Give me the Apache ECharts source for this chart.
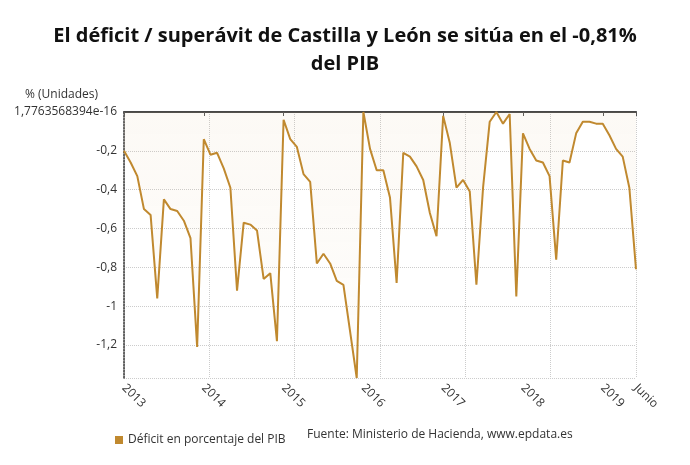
<!DOCTYPE html>
<html>
<head>
<meta charset="utf-8">
<script src="https://cdn.jsdelivr.net/npm/echarts@6/dist/echarts.min.js"></script>
<style>html,body{margin:0;padding:0;background:#fff}#c{width:690px;height:465px}</style>
</head>
<body>
<div id="c"></div>
<script>
var years = ['2013','2014','2015','2016','2017','2018','2019'];
var months = ['Ene','Feb','Mar','Abr','May','Jun','Jul','Ago','Sep','Oct','Nov','Dic'];
var categories = [];
years.forEach(function(y){ months.forEach(function(m){ categories.push(m + ' ' + y); }); });
categories = categories.slice(0, 78);

var deficit = [
  -0.20, -0.26, -0.33, -0.50, -0.53, -0.96, -0.45, -0.50, -0.51, -0.56, -0.65, -1.21,
  -0.14, -0.22, -0.21, -0.29, -0.39, -0.92, -0.57, -0.58, -0.61, -0.86, -0.83, -1.18,
  -0.04, -0.14, -0.18, -0.32, -0.36, -0.78, -0.73, -0.78, -0.87, -0.89, -1.13, -1.37,
  0.00, -0.19, -0.30, -0.30, -0.44, -0.88, -0.21, -0.23, -0.28, -0.35, -0.52, -0.64,
  -0.02, -0.16, -0.39, -0.35, -0.41, -0.89, -0.39, -0.05, 0.00, -0.06, -0.01, -0.95,
  -0.11, -0.19, -0.25, -0.26, -0.33, -0.76, -0.25, -0.26, -0.11, -0.05, -0.05, -0.06,
  -0.06, -0.12, -0.19, -0.23, -0.39, -0.81
];

var tickLabels = {0:'2013', 12:'2014', 24:'2015', 36:'2016', 48:'2017', 60:'2018', 72:'2019', 77:'Junio'};
var topLabel = '1,7763568394e-16';
var yAxisName = '% (Unidades)';

var chart = echarts.init(document.getElementById('c'));
var font = '"Open Sans", "Noto Sans", sans-serif';
function isTick(i){ return tickLabels.hasOwnProperty(i); }

chart.setOption({
  animation: false,
  textStyle: { fontFamily: font },
  title: {
    text: 'El déficit / superávit de Castilla y León se sitúa en el -0,81%\ndel PIB',
    left: 'center', top: 17,
    textStyle: { fontFamily: font, fontWeight: 'bold', fontSize: 20, color: '#111', lineHeight: 28 }
  },
  legend: {
    left: 110, top: 429, itemWidth: 8, itemHeight: 8, icon: 'rect', itemGap: 6,
    textStyle: { fontFamily: font, fontSize: 12, color: '#333' },
    data: ['Déficit en porcentaje del PIB']
  },
  graphic: [{
    type: 'text', left: 307, top: 429,
    style: { text: 'Fuente: Ministerio de Hacienda, www.epdata.es', font: '12px ' + font, fill: '#333' }
  }, {
    type: 'text', left: 25, top: 89,
    style: { text: yAxisName, font: '12px ' + font, fill: '#333' }
  }],
  grid: { left: 124, right: 54, top: 112, bottom: 87 },
  xAxis: [{
    type: 'category', data: categories, boundaryGap: false,
    axisLine: { lineStyle: { color: '#555', width: 2 } },
    axisTick: { show: true, interval: function(i){ return isTick(i); }, length: 4, lineStyle: { color: '#555' } },
    axisLabel: {
      interval: function(i){ return isTick(i); }, rotate: -45, color: '#333', fontSize: 12, margin: 8,
      fontFamily: font,
      formatter: function(v, i){ return tickLabels[i] || ''; }
    },
    splitLine: { show: false }
  }, {
    type: 'value', min: 0, max: 6, interval: 1, position: 'top',
    axisLine: { show: true, onZero: false, lineStyle: { color: '#444', width: 1.5 } },
    axisTick: { show: false }, axisLabel: { show: false },
    splitLine: { show: true, lineStyle: { color: '#ccc', type: 'dotted' } }
  }],
  yAxis: {
    type: 'value', min: -1.37, max: 0, minInterval: 0.2, maxInterval: 0.2, splitNumber: 7,
    axisLine: { show: true, lineStyle: { color: '#333', type: 'dotted', width: 1.5 } },
    axisTick: { show: false },
    axisLabel: {
      showMinLabel: false, color: '#333', fontSize: 12, margin: 7, fontFamily: font,
      formatter: function(v){
        if (Math.abs(v) < 1e-9) return topLabel;
        return String(Math.round(v * 100) / 100).replace('.', ',');
      }
    },
    splitLine: { show: true, lineStyle: { color: '#ccc', type: 'dotted' } }
  },
  series: [{
    name: 'Déficit en porcentaje del PIB', type: 'line', data: deficit,
    symbol: 'none', smooth: false,
    itemStyle: { color: '#c0892f' },
    lineStyle: { color: '#c0892f', width: 2 },
    areaStyle: {
      origin: 'end',
      color: new echarts.graphic.LinearGradient(0, 0, 0, 1, [
        { offset: 0, color: 'rgba(222,190,140,0.12)' },
        { offset: 1, color: 'rgba(222,190,140,0.04)' }
      ])
    }
  }]
});
</script>
</body>
</html>
